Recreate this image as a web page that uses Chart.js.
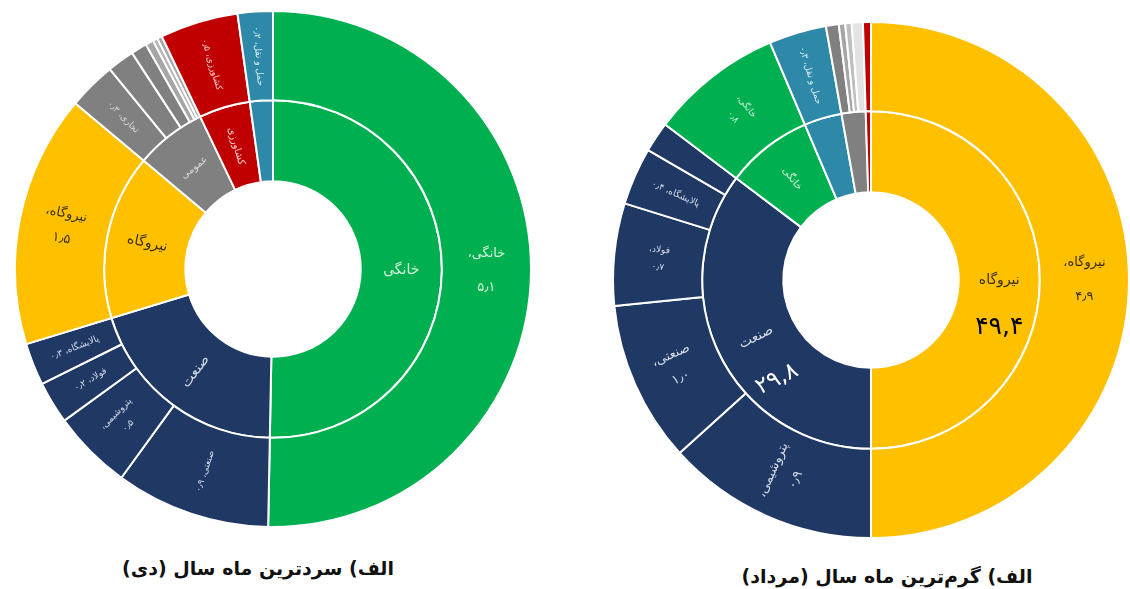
<!DOCTYPE html>
<html lang="fa">
<head>
<meta charset="utf-8">
<title>مصرف گاز - سردترین و گرم‌ترین ماه سال</title>
<script src="https://cdn.jsdelivr.net/npm/chart.js@4/dist/chart.umd.min.js"></script>
<style>
    body { margin: 0; background: #fff; width: 1130px; height: 589px; overflow: hidden; position: relative; font-family: "DejaVu Sans", sans-serif; }
    canvas { position: absolute; }
    #deyChart { left: 14px; top: 10px; }
    #mordadChart { left: 612px; top: 21px; }
    .title { position: absolute; font-weight: bold; font-size: 19px; color: #111; white-space: nowrap; transform: translate(-50%, -50%); }
</style>
</head>
<body>
<canvas id="deyChart" width="518" height="518"></canvas>
<canvas id="mordadChart" width="518" height="518"></canvas>
<div class="title" dir="rtl" style="left:258px; top:568px;">الف) سردترین ماه سال (دی)</div>
<div class="title" dir="rtl" style="left:887px; top:576px;">الف) گرم‌ترین ماه سال (مرداد)</div>
<script>
// سردترین ماه سال (دی)
const deyInnerLabels = ['خانگی', 'صنعت', 'نیروگاه', 'عمومی', 'کشاورزی', ''];
const deyInnerValues = [50.3, 20.0, 15.8, 6.8, 4.9, 2.2];
const deyOuterLabels = ['خانگی،\n۵٫۱', 'صنعتی، ۰٫۹', 'پتروشیمی،\n۰٫۵', 'فولاد، ۰٫۲', 'پالایشگاه، ۰٫۳', 'نیروگاه،\n۱٫۵',
    'تجاری، ۰٫۳', '', '', '', '', '', 'کشاورزی، ۰٫۵', 'حمل و نقل، ۰٫۲'];
const deyOuterValues = [50.3, 9.7, 5.0, 2.65, 2.65, 15.8, 3.0, 1.7, 1.0, 0.5, 0.3, 0.3, 4.9, 2.2];

// گرم‌ترین ماه سال (مرداد)
const mordadInnerLabels = ['نیروگاه', 'صنعت', 'خانگی', '', '', ''];
const mordadInnerNotes = ['۴۹,۴', '۲۹,۸', '', '', '', ''];
const mordadInnerValues = [50.0, 35.3, 8.3, 3.6, 2.3, 0.5];
const mordadOuterLabels = ['نیروگاه،\n۴٫۹', 'پتروشیمی،\n۰٫۹', 'صنعتی،\n۱٫۰', 'فولاد،\n۰٫۷', 'پالایشگاه، ۰٫۴', '',
    'خانگی،\n۰٫۸', 'حمل و نقل، ۰٫۳', '', '', '', '', ''];
const mordadOuterValues = [50.0, 13.3, 10.1, 6.4, 3.6, 1.9, 8.3, 3.6, 0.8, 0.4, 0.4, 0.7, 0.5];

const GREEN = '#00b050', NAVY = '#203864', YELLOW = '#ffc000', GRAY = '#808080',
      RED = '#c00000', TEAL = '#2e89a8';

const deyInnerColors = [GREEN, NAVY, YELLOW, GRAY, RED, TEAL];
const deyOuterColors = [GREEN, NAVY, NAVY, NAVY, NAVY, YELLOW,
    GRAY, GRAY, GRAY, '#a6a6a6', '#b8b8b8', '#a6a6a6', RED, TEAL];
const mordadInnerColors = [YELLOW, NAVY, GREEN, TEAL, GRAY, RED];
const mordadOuterColors = [YELLOW, NAVY, NAVY, NAVY, NAVY, NAVY,
    GREEN, TEAL, GRAY, '#a6a6a6', '#bfbfbf', '#e3e3e3', RED];

const textColors = {};
textColors[GREEN] = '#d4f5dc';
textColors[NAVY] = '#d5dbe8';
textColors[YELLOW] = '#3a2f00';
textColors[GRAY] = '#dadada';
textColors[RED] = '#f7d0d0';
textColors[TEAL] = '#d8edf4';

// labels drawn in the middle of each slice
const sliceLabels = {
    id: 'sliceLabels',
    afterDatasetsDraw(chart) {
        const ctx = chart.ctx;
        chart.data.datasets.forEach((ds, i) => {
            const meta = chart.getDatasetMeta(i);
            meta.data.forEach((arc, j) => {
                const text = ds.labels[j];
                if (!text) return;
                const p = arc.getProps(['x', 'y', 'startAngle', 'endAngle', 'innerRadius', 'outerRadius'], true);
                const a = (p.startAngle + p.endAngle) / 2;
                const r = (p.innerRadius + p.outerRadius) / 2;
                const cx = p.x + r * Math.cos(a);
                const cy = p.y + r * Math.sin(a);
                let rot;
                if (ds.data[j] > 40) rot = 0;
                else if (ds.tangential && ds.tangential.includes(text)) rot = a + Math.PI / 2;
                else rot = a;
                while (rot > Math.PI / 2) rot -= Math.PI;
                while (rot <= -Math.PI / 2) rot += Math.PI;

                const big = ds.data[j] > 10;
                const size = ds.ring === 'inner' ? (big ? 14 : 10) : (big ? 13 : 9);
                const lines = text.split('\n');
                ctx.save();
                ctx.translate(cx, cy);
                ctx.rotate(rot);
                ctx.direction = 'rtl';
                ctx.textAlign = 'center';
                ctx.textBaseline = 'middle';
                ctx.font = size + 'px "DejaVu Sans", sans-serif';
                ctx.fillStyle = textColors[ds.backgroundColor[j]] || '#fff';
                const lh = size * (ds.data[j] > 40 ? 2.6 : 1.9);
                lines.forEach((ln, k) => {
                    ctx.fillText(ln, 0, (k - (lines.length - 1) / 2) * lh);
                });
                if (ds.notes && ds.notes[j]) {
                    const yellow = ds.backgroundColor[j] === YELLOW;
                    ctx.direction = 'ltr';
                    ctx.font = (yellow ? 25 : 23) + 'px "DejaVu Sans", sans-serif';
                    ctx.fillStyle = yellow ? '#000' : '#fff';
                    ctx.fillText(ds.notes[j], 0, 47);
                }
                ctx.restore();
            });
        });
    }
};

function sunburst(canvasId, outerValues, outerColors, outerLabels, innerValues, innerColors, innerLabels, innerNotes, tangential) {
    const ctx = document.getElementById(canvasId).getContext('2d');
    return new Chart(ctx, {
        type: 'doughnut',
        data: {
            datasets: [{
                data: outerValues,
                backgroundColor: outerColors,
                labels: outerLabels,
                ring: 'outer',
                weight: 89,
                borderColor: '#ffffff',
                borderWidth: 2
            }, {
                data: innerValues,
                backgroundColor: innerColors,
                labels: innerLabels,
                notes: innerNotes,
                tangential: tangential,
                ring: 'inner',
                weight: 81,
                borderColor: '#ffffff',
                borderWidth: 2
            }]
        },
        options: {
            responsive: false,
            animation: false,
            cutout: '34%',
            layout: { padding: 0 },
            plugins: {
                legend: { display: false },
                tooltip: { enabled: false }
            }
        },
        plugins: [sliceLabels]
    });
}

sunburst('deyChart', deyOuterValues, deyOuterColors, deyOuterLabels,
    deyInnerValues, deyInnerColors, deyInnerLabels, null, ['عمومی']);
sunburst('mordadChart', mordadOuterValues, mordadOuterColors, mordadOuterLabels,
    mordadInnerValues, mordadInnerColors, mordadInnerLabels, mordadInnerNotes, []);
</script>
</body>
</html>
